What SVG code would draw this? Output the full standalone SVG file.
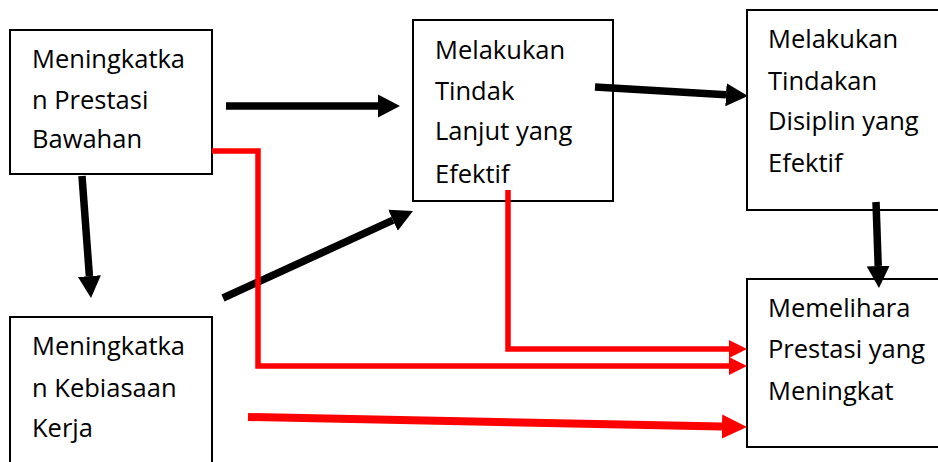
<svg xmlns="http://www.w3.org/2000/svg" width="938" height="462" viewBox="0 0 938 462">
<style>
.box{fill:#fff;stroke:#000;stroke-width:2}
.t{font-family:"Open Sans","Noto Sans",sans-serif;font-size:25.5px;fill:#000}
.blk{stroke:#000;stroke-width:7.5;fill:none}
.red{stroke:#f00;stroke-width:5.5;fill:none}
.redt{stroke:#f00;stroke-width:8;fill:none}
</style>
<defs>
<marker id="ab" markerUnits="userSpaceOnUse" markerWidth="22" markerHeight="24" viewBox="0 -12 22 24" refX="0" refY="0" orient="auto"><path d="M0,-11.5 L22,0 L0,11.5 z" fill="#000"/></marker>
<marker id="ar" markerUnits="userSpaceOnUse" markerWidth="18" markerHeight="20" viewBox="0 -10 18 20" refX="0" refY="0" orient="auto"><path d="M0,-9 L18,0 L0,9 z" fill="#f00"/></marker>
<marker id="ar2" markerUnits="userSpaceOnUse" markerWidth="25" markerHeight="26" viewBox="0 -13 25 26" refX="0" refY="0" orient="auto"><path d="M0,-12 L25,0 L0,12 z" fill="#f00"/></marker>
</defs>
<g id="n1"><rect class="box" x="10" y="30" width="202" height="144"/>
<text class="t" x="32" y="68">Meningkatka</text><text class="t" x="32" y="109">n Prestasi</text><text class="t" x="32" y="148">Bawahan</text></g>
<g id="n2"><rect class="box" x="413" y="20" width="200" height="181"/>
<text class="t" x="435" y="59">Melakukan</text><text class="t" x="435" y="100">Tindak</text><text class="t" x="435" y="140">Lanjut yang</text><text class="t" x="435" y="183">Efektif</text></g>
<g id="n3"><rect class="box" x="747" y="10" width="200" height="200"/>
<text class="t" x="768" y="48">Melakukan</text><text class="t" x="768" y="90">Tindakan</text><text class="t" x="768" y="130">Disiplin yang</text><text class="t" x="768" y="172">Efektif</text></g>
<g id="n4"><rect class="box" x="747" y="279" width="200" height="168"/>
<text class="t" x="768" y="317">Memelihara</text><text class="t" x="768" y="358">Prestasi yang</text><text class="t" x="768" y="400">Meningkat</text></g>
<g id="n5"><rect class="box" x="10" y="317" width="202" height="160"/>
<text class="t" x="32" y="355">Meningkatka</text><text class="t" x="32" y="397">n Kebiasaan</text><text class="t" x="32" y="437">Kerja</text></g>
<g id="connectors">
<path class="blk" d="M226,106 L378,106" marker-end="url(#ab)"/>
<path class="blk" d="M595,87 L726,94.7" marker-end="url(#ab)"/>
<path class="blk" d="M82,176 L89.4,276.1" marker-end="url(#ab)"/>
<path class="blk" d="M223,298 L393,220.2" marker-end="url(#ab)"/>
<path class="blk" d="M876,202 L878.2,266" marker-end="url(#ab)"/>
<path class="red" d="M212,151 H258 V366 H729" marker-end="url(#ar)"/>
<path class="red" d="M508,190 V349 H729" marker-end="url(#ar)"/>
<path class="redt" d="M248,417 L722,426.5" marker-end="url(#ar2)"/>
</g>
</svg>
